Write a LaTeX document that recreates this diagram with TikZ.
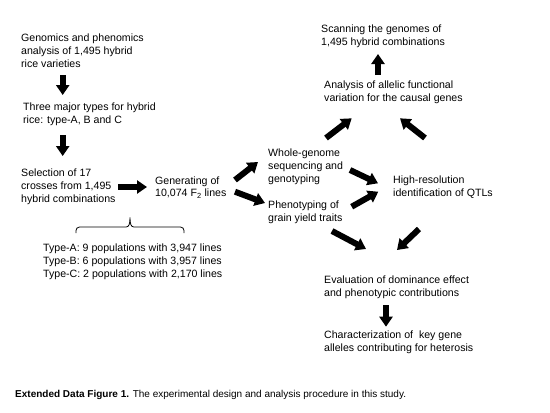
\documentclass[tikz,border=0pt]{standalone}
\usepackage{fontspec}
\setmainfont{Liberation Sans}
\usetikzlibrary{arrows.meta}
\tikzset{
  txt/.style={anchor=west, align=left, inner sep=0pt, font=\fontsize{10.6}{12.8}\selectfont, text=black},
  fat/.style={draw=black, line width=6pt, -{Triangle[length=10pt,width=13pt]}},
  bracestyle/.style={draw=black, line width=0.8pt}
}
\begin{document}
\begin{tikzpicture}[x=1pt,y=-1pt]
\useasboundingbox[fill=white] (0,0) rectangle (550,413);
% text blocks
\node[txt] (gen) at (21,51) {Genomics and phenomics\\analysis of 1,495 hybrid\\rice varieties};
\node[txt] (three) at (23,114) {Three major types for hybrid\\rice: type-A, B and C};
\node[txt] (sel) at (21,187) {Selection of 17\\crosses from 1,495\\hybrid combinations};
\node[txt] (f2) at (155,187.5) {Generating of\\10,074 F\textsubscript{2} lines};
\node[txt] (types) at (43,262) {Type-A: 9 populations with 3,947 lines\\Type-B: 6 populations with 3,957 lines\\Type-C: 2 populations with 2,170 lines};
\node[txt] (scan) at (321,36) {Scanning the genomes of\\1,495 hybrid combinations};
\node[txt] (allel) at (324,92) {Analysis of allelic functional\\variation for the causal genes};
\node[txt] (wgs) at (268,167) {Whole-genome\\sequencing and\\genotyping};
\node[txt] (pheno) at (268,212.5) {Phenotyping of\\grain yield traits};
\node[txt] (qtl) at (393,187) {High-resolution\\identification of QTLs};
\node[txt] (eval) at (324,287) {Evaluation of dominance effect\\and phenotypic contributions};
\node[txt] (char) at (324,342.5) {Characterization of~ key gene\\alleles contributing for heterosis};
\node[txt, font=\fontsize{10}{12}\selectfont] (cap) at (15,395) {\textbf{Extended Data Figure 1.} The experimental design and analysis procedure in this study.};
% arrow end points
\coordinate (a1s) at (62.7,75);   \coordinate (a1e) at (62.7,95);
\coordinate (a2s) at (62.7,135);  \coordinate (a2e) at (62.7,156);
\coordinate (a3s) at (118,187);   \coordinate (a3e) at (147,187);
\coordinate (a4s) at (235,180);   \coordinate (a4e) at (258,162);
\coordinate (a5s) at (235,191.7); \coordinate (a5e) at (265,203);
\coordinate (a6s) at (350,170);   \coordinate (a6e) at (378,183.3);
\coordinate (a7s) at (351.7,206.7); \coordinate (a7e) at (378.3,191.7);
\coordinate (a8s) at (332,231);   \coordinate (a8e) at (366,249);
\coordinate (a9s) at (419,229);   \coordinate (a9e) at (397,250);
\coordinate (a10s) at (378,75);   \coordinate (a10e) at (378,54);
\coordinate (a11s) at (326,138);  \coordinate (a11e) at (351.7,118.3);
\coordinate (a12s) at (425,138);  \coordinate (a12e) at (400,118.3);
\coordinate (a13s) at (386,305);  \coordinate (a13e) at (386,326.7);
\foreach \i in {1,...,13} {\draw[fat] (a\i s) -- (a\i e);}
% brace
\draw[bracestyle] (76,233) -- (76,230.5) to[out=90,in=180] (79.5,227) -- (126,227)
  .. controls (129,227) and (130,224) .. (130,217.5)
  .. controls (130,224) and (131,227) .. (134,227) -- (180.5,227)
  to[out=0,in=90] (184,230.5) -- (184,233);
\end{tikzpicture}
\end{document}
